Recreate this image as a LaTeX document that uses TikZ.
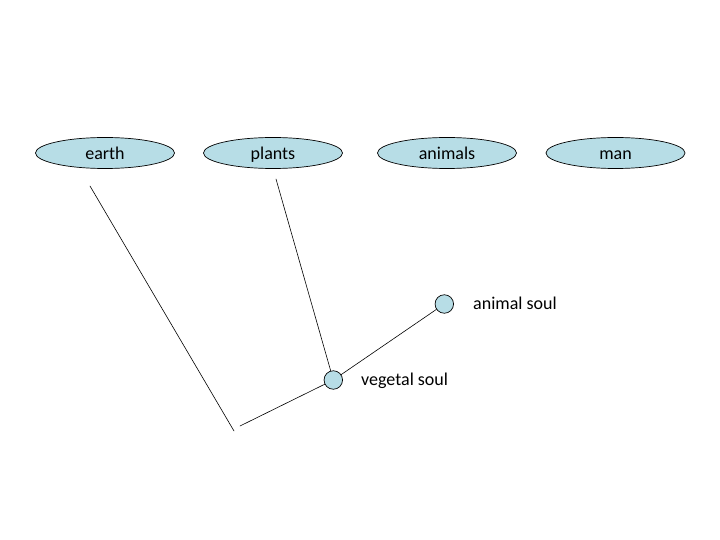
\documentclass[tikz,border=0pt]{standalone}
\usepackage{fontspec}
\setmainfont{Carlito}
\usetikzlibrary{shapes.geometric}
\definecolor{soulfill}{RGB}{183,221,230}
\begin{document}
\begin{tikzpicture}[
    x=1bp, y=-1bp,
    line cap=round,
    line join=round,
    realm/.style={ellipse,draw,line width=0.7pt,fill=soulfill,
        minimum width=139bp,minimum height=31bp,inner sep=0pt,
        text height=16bp,text depth=3bp,
        font=\fontsize{18bp}{20bp}\selectfont},
    soul/.style={circle,draw,line width=0.7pt,fill=soulfill,
        minimum size=18.5bp,inner sep=0pt},
    tag/.style={anchor=west,inner sep=0pt,text height=12bp,text depth=4bp,
        font=\fontsize{18bp}{20bp}\selectfont},
    branch/.style={line width=0.6pt}
]
\useasboundingbox (0,0) rectangle (720,540);

% -------------------------------------------------
% Ступени: earth, plants, animals, man
% -------------------------------------------------

\node[realm] (earth)   at (105,153) {earth};
\node[realm] (plants)  at (273,153) {plants};
\node[realm] (animals) at (447,153) {animals};
\node[realm] (man)     at (615.5,153) {man};

% -------------------------------------------------
% Души
% -------------------------------------------------

\node[soul] (vegetal) at (333.3,380) {};
\node[soul] (animal)  at (444.3,304) {};

\node[tag] (vegetallabel) at (361,381) {vegetal soul};
\node[tag] (animallabel)  at (473,305) {animal soul};

% -------------------------------------------------
% Свободные концы ветвей
% -------------------------------------------------

\coordinate (E1) at (90,186);    % под earth
\coordinate (E2) at (234,431);   % нижний конец
\coordinate (R)  at (240,426);   % начало нижней ветви
\coordinate (P1) at (276,179);   % под plants

% -------------------------------------------------
% Ветви
% -------------------------------------------------

\draw[branch] (E1)--(E2);
\draw[branch] (R)--(vegetal);
\draw[branch] (P1)--(vegetal);
\draw[branch] (vegetal)--(animal);
\end{tikzpicture}
\end{document}
